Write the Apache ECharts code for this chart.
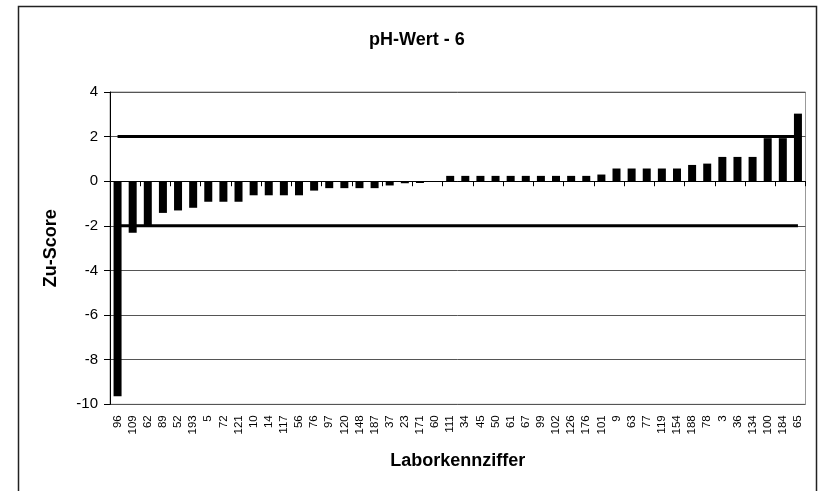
<!DOCTYPE html>
<html>
<head>
<meta charset="utf-8">
<script src="https://cdn.jsdelivr.net/npm/echarts@6/dist/echarts.min.js"></script>
<style>
html,body{margin:0;padding:0;background:#fff;}
#c{width:822px;height:491px;}
</style>
</head>
<body>
<div id="c"></div>
<script>
const categories = ["96","109","62","89","52","193","5","72","121","10","14","117","56","76","97","120","148","187","37","23","171","60","111","34","45","50","61","67","99","102","126","176","101","9","63","77","119","154","188","78","3","36","134","100","184","65"];
const zScores = [-9.64,-2.31,-2.02,-1.42,-1.31,-1.19,-0.92,-0.92,-0.92,-0.63,-0.63,-0.63,-0.63,-0.42,-0.31,-0.31,-0.31,-0.31,-0.19,-0.09,-0.08,0,0.24,0.24,0.24,0.24,0.24,0.24,0.24,0.24,0.24,0.24,0.3,0.57,0.57,0.57,0.57,0.57,0.73,0.79,1.09,1.09,1.09,1.93,1.93,3.03];
const upperLimit = 2;
const lowerLimit = -2;
const yTicks = [-10, 4, 2];

const FONT = "'Liberation Sans', Arial, sans-serif";
const chart = echarts.init(document.getElementById('c'), null, {renderer: 'canvas'});
const last = categories[categories.length - 1];
chart.setOption({
  animation: false,
  backgroundColor: '#fff',
  title: {
    text: 'pH-Wert - 6',
    left: 364, top: 26,
    textStyle: {fontFamily: FONT, fontSize: 18, fontWeight: 'bold', color: '#000'}
  },
  graphic: [{
    type: 'rect', silent: true, z: 100,
    shape: {x: 18.5, y: 6.5, width: 798, height: 500},
    style: {fill: 'none', stroke: '#222', lineWidth: 1.5}
  }],
  grid: {left: 110, top: 92, right: 16.5, bottom: 86.7, show: true, borderColor: '#999', borderWidth: 1, containLabel: false},
  xAxis: [{
    type: 'category', data: categories, position: 'bottom',
    axisLine: {show: false, onZero: false},
    axisTick: {show: false},
    axisLabel: {interval: 0, rotate: 90, fontSize: 11.5, fontFamily: FONT, color: '#000', margin: 11},
    name: 'Laborkennziffer', nameLocation: 'middle', nameGap: 48,
    nameTextStyle: {fontFamily: FONT, fontSize: 18, fontWeight: 'bold', color: '#000'},
    splitLine: {show: false}
  }, {
    type: 'category', data: categories, position: 'top',
    axisLine: {show: true, onZero: true, lineStyle: {color: '#000', width: 1}},
    axisTick: {show: true, inside: true, length: 5, lineStyle: {color: '#000'}},
    axisLabel: {show: false},
    splitLine: {show: false},
    z: 6
  }],
  yAxis: {
    type: 'value', min: yTicks[0], max: yTicks[1], interval: yTicks[2],
    axisLine: {show: true, onZero: false, lineStyle: {color: '#000', width: 1}},
    axisTick: {show: true, length: 6, lineStyle: {color: '#000'}},
    axisLabel: {fontSize: 15, fontFamily: FONT, color: '#000', margin: 12},
    splitLine: {show: true, lineStyle: {color: '#555', width: 1}},
    name: 'Zu-Score', nameLocation: 'middle', nameGap: 50, nameRotate: 90,
    nameTextStyle: {fontFamily: FONT, fontSize: 18, fontWeight: 'bold', color: '#000'}
  },
  series: [{
    type: 'bar', data: zScores, xAxisIndex: 0, barWidth: 8, z: 5,
    itemStyle: {color: '#000'}
  }, {
    type: 'line', xAxisIndex: 0, data: [[categories[0], upperLimit], [last, upperLimit]],
    symbol: 'none', lineStyle: {color: '#000', width: 3}, z: 3
  }, {
    type: 'line', xAxisIndex: 0, data: [[categories[0], lowerLimit], [last, lowerLimit]],
    symbol: 'none', lineStyle: {color: '#000', width: 3}, z: 3
  }]
});
</script>
</body>
</html>
